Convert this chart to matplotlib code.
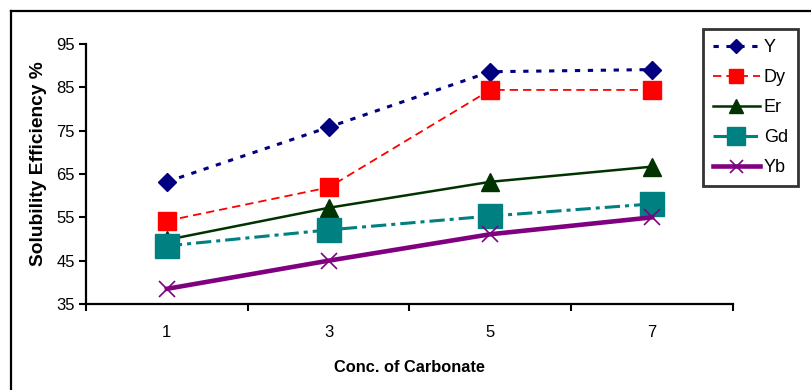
import matplotlib
matplotlib.use("Agg")
import matplotlib.pyplot as plt
from matplotlib.lines import Line2D

plt.rcParams['font.family'] = ['Liberation Sans', 'DejaVu Sans']
plt.rcParams['lines.scale_dashes'] = False

conc = ['1', '3', '5', '7']
y_eff = [63.2, 75.8, 88.6, 89.1]
dy_eff = [54.2, 61.9, 84.4, 84.4]
er_eff = [49.8, 57.2, 63.2, 66.7]
gd_eff = [48.4, 52.1, 55.3, 58.1]
yb_eff = [38.5, 45.0, 51.1, 55.0]

fig = plt.figure(figsize=(8.12, 3.9), dpi=100)
ax = fig.add_axes([86 / 812, 1 - 304 / 390, (733 - 86) / 812, (304 - 44) / 390])

x = range(len(conc))

ax.plot(x, y_eff, color='#000080', lw=2.2, dashes=(3.8, 5.5),
        marker='D', ms=9.5, mfc='#000080', mec='#000080', label='Y')
ax.plot(x, dy_eff, color='#FF0000', lw=1.3, dashes=(6, 3.6),
        marker='s', ms=12.5, mfc='#FF0000', mec='#FF0000', label='Dy')
ax.plot(x, er_eff, color='#003300', lw=1.8, linestyle='-',
        marker='^', ms=13, mfc='#003300', mec='#003300', label='Er')
ax.plot(x, gd_eff, color='#008080', lw=2.2, dashes=(11, 3.6, 2.9, 3.6),
        marker='s', ms=17, mfc='#008080', mec='#008080', label='Gd')
ax.plot(x, yb_eff, color='#800080', lw=3.3, linestyle='-',
        marker='x', ms=12, mew=1.2, mec='#800080', label='Yb')

ax.set_xlim(-0.5, len(conc) - 0.5)
ax.set_ylim(35, 95)
ax.set_yticks(range(35, 96, 10))

# category labels sit between the boundary ticks
ax.set_xticks([i - 0.5 for i in range(len(conc) + 1)])
ax.set_xticklabels([])
ax.set_xticks(list(x), minor=True)
ax.set_xticklabels(conc, minor=True)
ax.tick_params(axis='x', which='minor', length=0, pad=15, labelsize=12)
ax.tick_params(axis='x', which='major', length=5, width=1.5, direction='out')
ax.tick_params(axis='y', length=5, width=1.5, direction='out', labelsize=12, pad=3)

for side in ['top', 'right']:
    ax.spines[side].set_visible(False)
for side in ['left', 'bottom']:
    ax.spines[side].set_linewidth(1.6)

ax.set_xlabel('Conc. of Carbonate', fontsize=11.8, fontweight='bold')
ax.xaxis.set_label_coords(0.5, -0.215)
ax.set_ylabel('Solubility Efficiency %', fontsize=13.8, fontweight='bold')
ax.yaxis.set_label_coords(-0.06, 0.54)

leg = fig.legend(loc='upper left', bbox_to_anchor=(703 / 812, 1 - 29 / 390),
                 bbox_transform=fig.transFigure, borderaxespad=0,
                 fontsize=13, fancybox=False, frameon=True, markerscale=0.78,
                 handlelength=2.6, handletextpad=0.22, labelspacing=0.72,
                 borderpad=0.55)
leg.get_frame().set_edgecolor('black')
leg.get_frame().set_linewidth(2)

# outer border along the left and top of the chart area
fig.add_artist(Line2D([11 / 812, 11 / 812], [0, 1 - 11 / 390],
                      transform=fig.transFigure, color='black', lw=1.6))
fig.add_artist(Line2D([11 / 812, 1], [1 - 11 / 390, 1 - 11 / 390],
                      transform=fig.transFigure, color='black', lw=1.6))

fig.savefig('out.png', dpi=100)
